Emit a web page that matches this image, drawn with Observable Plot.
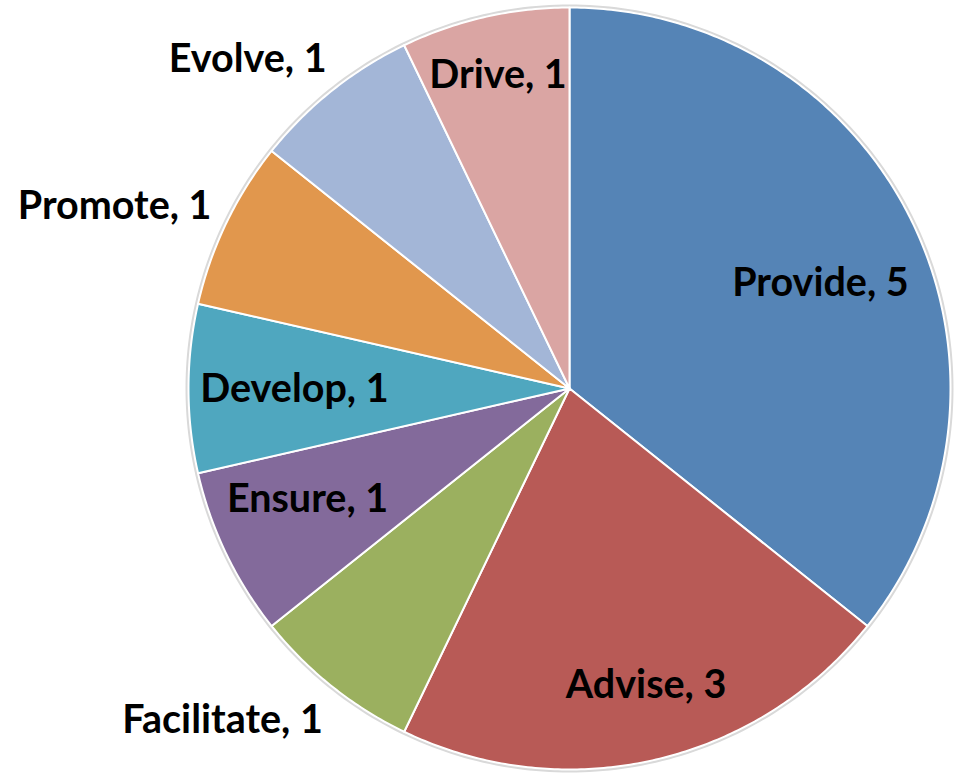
<!DOCTYPE html>
<html>
<head>
<meta charset="utf-8">
<script src="https://cdn.jsdelivr.net/npm/d3@7"></script>
<script src="https://cdn.jsdelivr.net/npm/@observablehq/plot@0.6"></script>
<style>
  html, body { margin: 0; padding: 0; background: #ffffff; }
  #chart svg { display: block; }
</style>
</head>
<body>
<div id="chart"></div>
<script>
// ---- data ----
const categories = ["Provide", "Advise", "Facilitate", "Ensure", "Develop", "Promote", "Evolve", "Drive"];
const values = [5, 3, 1, 1, 1, 1, 1, 1];
const colors = ["#5584B6", "#B85A56", "#9BB05F", "#836A9B", "#4FA7BF", "#E1974D", "#A3B6D7", "#DAA5A3"];

// ---- layout (label placement: radius factor, angle offset in degrees) ----
const labelRadius = [0.714, 0.805, 1.26, 0.747, 0.722, 1.286, 1.208, 0.843];
const labelAngleShift = [3.0, -1.6, 7.7, 2.7, -0.2, -3.9, -5.8, 0.0];

const W = 961, H = 779;
const cx = 569, cy = 388, R = 381;

const pie = d3.pie().sort(null).value(d => d.value);
const rows = categories.map((c, i) => ({cat: c, value: values[i], i}));
const arcs = pie(rows);

// slice outlines built from pie angles (0 = 12 o'clock, clockwise)
const slicePts = [];
arcs.forEach(a => {
  const n = Math.max(8, Math.ceil((a.endAngle - a.startAngle) / 0.01));
  slicePts.push({cat: a.data.cat, x: 0, y: 0});
  for (let k = 0; k <= n; k++) {
    const t = a.startAngle + (a.endAngle - a.startAngle) * k / n;
    slicePts.push({cat: a.data.cat, x: R * Math.sin(t), y: -R * Math.cos(t)});
  }
  slicePts.push({cat: a.data.cat, x: 0, y: 0});
});

const ring = d3.range(0, 361).map(d => ({x: (R + 1.5) * Math.sin(d * Math.PI / 180), y: -(R + 1.5) * Math.cos(d * Math.PI / 180)}));

const labels = arcs.map((a, i) => {
  const mid = (a.startAngle + a.endAngle) / 2 + labelAngleShift[i] * Math.PI / 180;
  const r = R * labelRadius[i];
  return {text: `${a.data.cat}, ${a.data.value}`, x: r * Math.sin(mid), y: -r * Math.cos(mid)};
});

const chart = Plot.plot({
  width: W,
  height: H,
  margin: 0,
  style: {background: "#ffffff", fontFamily: "Lato, 'Open Sans', sans-serif"},
  x: {domain: [-cx, W - cx], range: [0, W], axis: null},
  y: {domain: [-cy, H - cy], range: [0, H], axis: null},
  color: {domain: categories, range: colors},
  marks: [
    Plot.line(ring, {x: "x", y: "y", stroke: "#d9d9d9", strokeWidth: 3, fill: "none"}),
    Plot.line(slicePts, {x: "x", y: "y", z: "cat", fill: "cat", stroke: "#ffffff", strokeWidth: 2, strokeLinejoin: "round", curve: "linear"}),
    Plot.text(labels, {x: "x", y: "y", text: "text", fill: "#000000", fontSize: 39.5, fontWeight: "bold", textAnchor: "middle", lineAnchor: "middle"})
  ]
});

document.getElementById("chart").appendChild(chart);
</script>
</body>
</html>
